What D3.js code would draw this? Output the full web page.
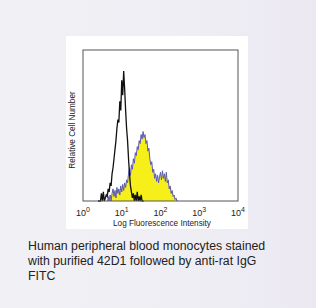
<!DOCTYPE html>
<html>
<head>
<meta charset="utf-8">
<style>
  html, body { margin: 0; padding: 0; }
  body {
    width: 316px; height: 308px; overflow: hidden;
    background: linear-gradient(90deg, #f1f0f5 0%, #efeef4 60%, #ebe8f2 100%);
  }
  svg { display: block; }
</style>
</head>
<body>
<svg id="chart" width="316" height="308"></svg>
<script src="https://d3js.org/d3.v7.min.js"></script>
<script>
// log10 bin centres (decades) and counts
const binStep = 0.025;
const isotypeStart = 0.40;
const isotypeCounts = [0, 0, 0, 5, 0, 6, 0, 2, 4, 3, 8, 6, 12, 10, 18, 22, 28, 34, 40, 48, 54, 52, 66, 60,
  80, 70, 86, 74, 60, 48, 40, 28, 18, 10, 6, 2, 5, 0, 4, 0, 6, 0, 3, 0, 4, 0, 0];
const stainedStart = 0.65;
const stainedCounts = [3, 0, 4, 0, 5, 8, 3, 7, 2, 9, 5, 8, 4, 10, 6, 11, 7, 12, 9, 14, 12, 18, 22, 17,
  24, 21, 28, 25, 32, 30, 36, 34, 40, 38, 44, 41, 46, 42, 44, 38, 40, 33, 35, 28, 24, 26, 19, 21,
  15, 18, 13, 17, 12, 16, 19, 14, 20, 15, 18, 13, 19, 12, 14, 8, 10, 5, 7, 3, 4, 1, 2, 0];
const decades = [0, 1, 2, 3, 4];
const caption = ["Human peripheral blood monocytes stained", "with purified 42D1 followed by anti-rat IgG", "FITC"];

const svg = d3.select("#chart");

// white panel
svg.append("rect").attr("x", 66).attr("y", 36).attr("width", 182).attr("height", 193).attr("fill", "#fff");

const x = d3.scaleLinear().domain([0, 4]).range([83, 238]);
const y = d3.scaleLinear().domain([0, 100]).range([201, 50]);

function points(start, counts) {
  const pts = counts.map((c, i) => [start + i * binStep, c]);
  return [[start - binStep / 2, 0]].concat(pts, [[start + (counts.length - 0.5) * binStep, 0]]);
}

const stained = points(stainedStart, stainedCounts);
svg.append("path")
  .attr("d", d3.area().x(d => x(d[0])).y0(y(0)).y1(d => y(d[1]))(stained))
  .attr("fill", "#f6ef1a");
svg.append("path")
  .attr("d", d3.line().x(d => x(d[0])).y(d => y(d[1]))(stained))
  .attr("fill", "none").attr("stroke", "#5a5ab4").attr("stroke-width", 1);

const iso = points(isotypeStart, isotypeCounts);
svg.append("path")
  .attr("d", d3.line().x(d => x(d[0])).y(d => y(d[1]))(iso))
  .attr("fill", "none").attr("stroke", "#111").attr("stroke-width", 1.3);

// frame
svg.append("rect").attr("x", 83).attr("y", 50).attr("width", 155).attr("height", 151)
  .attr("fill", "none").attr("stroke", "#555").attr("stroke-width", 1);

// decade labels
const lab = svg.append("g").attr("font-family", "Arial, 'Liberation Sans', sans-serif").attr("fill", "#222");
decades.forEach(d => {
  const t = lab.append("text").attr("x", x(d)).attr("y", 216).attr("text-anchor", "middle").attr("font-size", 9);
  t.append("tspan").text("10");
  t.append("tspan").attr("dy", -4).attr("font-size", 7).text(d);
});
lab.append("text").attr("x", 162).attr("y", 226).attr("text-anchor", "middle").attr("font-size", 8.2)
  .text("Log Fluorescence Intensity");
lab.append("text").attr("transform", "translate(75,130) rotate(-90)").attr("text-anchor", "middle")
  .attr("font-size", 8.2).text("Relative Cell Number");

// caption
const cap = svg.append("text").attr("font-family", "Arial, 'Liberation Sans', sans-serif")
  .attr("font-size", 12.3).attr("fill", "#222");
caption.forEach((line, i) => {
  cap.append("tspan").attr("x", 28).attr("y", 250 + i * 15).text(line);
});
</script>
</body>
</html>
